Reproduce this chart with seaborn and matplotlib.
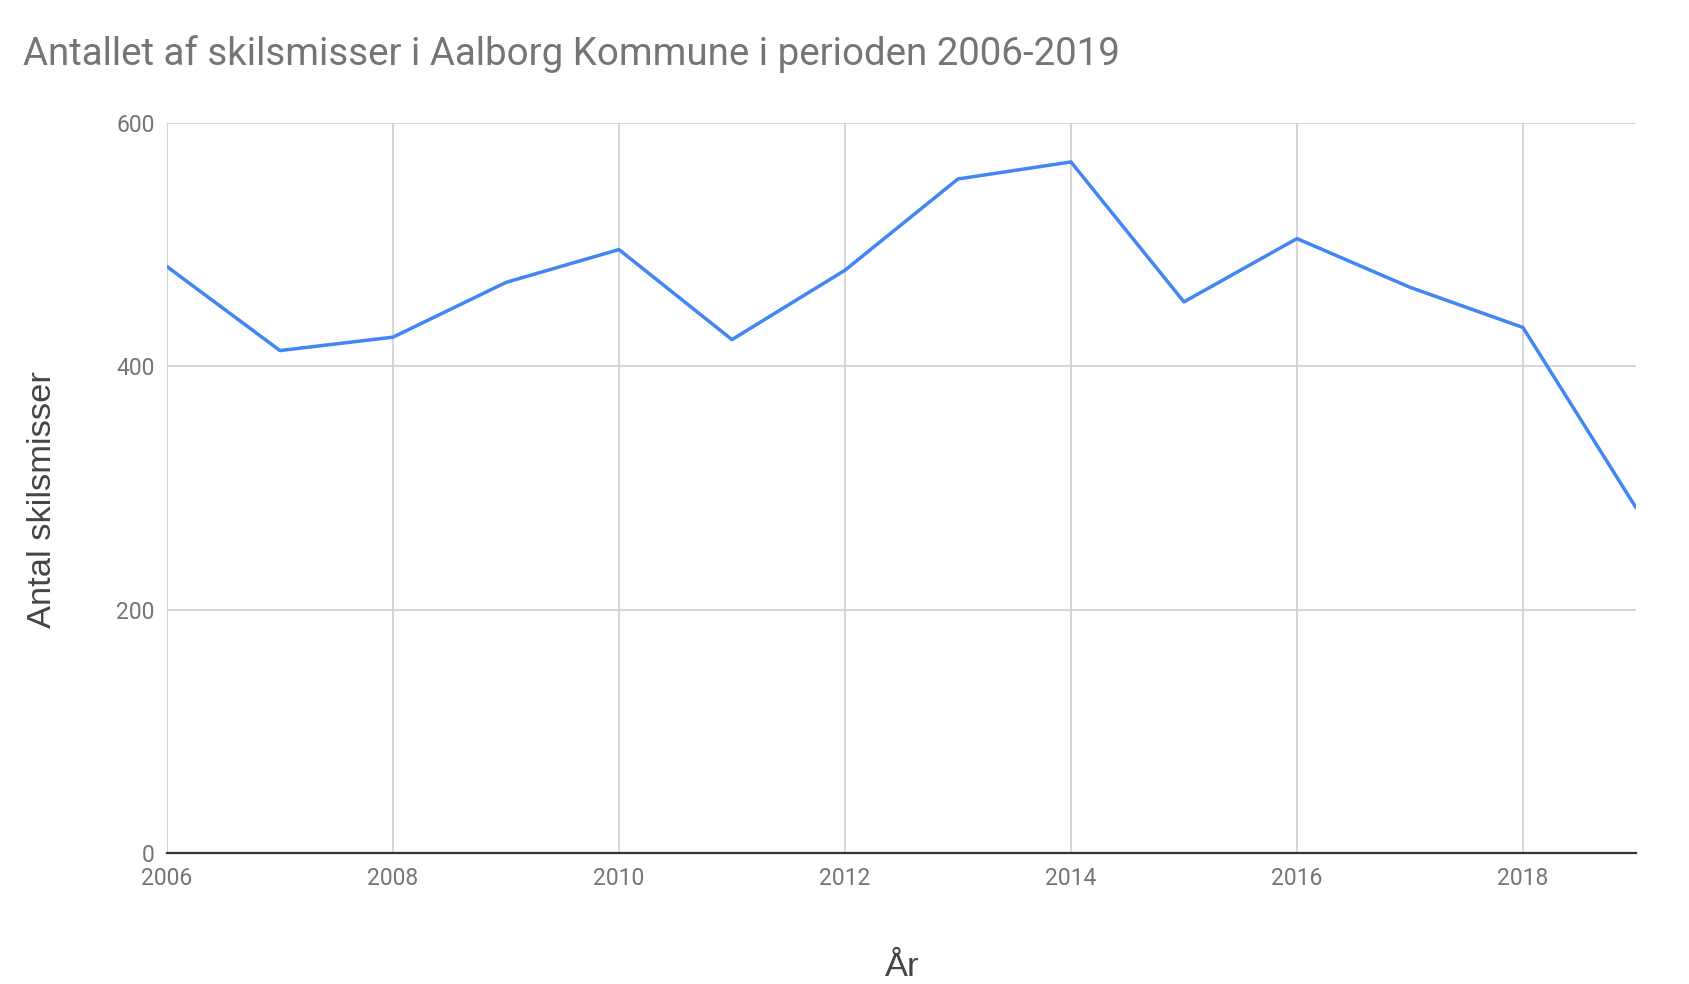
import pandas as pd
from matplotlib import pyplot as plt
import seaborn as sns

# data
years = [2006, 2007, 2008, 2009, 2010, 2011, 2012, 2013, 2014, 2015, 2016, 2017, 2018, 2019]
divorces = [482, 413, 424, 469, 496, 422, 479, 554, 568, 453, 505, 465, 432, 284]
x_ticks = [2006, 2008, 2010, 2012, 2014, 2016, 2018]
y_ticks = [0, 200, 400, 600]

title = "Antallet af skilsmisser i Aalborg Kommune i perioden 2006-2019"
x_label = "År"
y_label = "Antal skilsmisser"

df = pd.DataFrame({'year': years, 'divorces': divorces})

sns.set_style('white')
plt.rcParams['font.family'] = ['Roboto', 'DejaVu Sans']

fig = plt.figure(figsize=(16.9, 9.84), dpi=100)
ax = fig.add_axes([0.0988, 0.133, 0.968 - 0.0988, 0.875 - 0.133])

sns.lineplot(data=df, x='year', y='divorces', ax=ax, color='#4285F4', linewidth=2.5, zorder=3)

ax.set_xlim(2006, 2019)
ax.set_ylim(0, 600)
ax.set_xticks(x_ticks)
ax.set_yticks(y_ticks)
ax.grid(True, color='#cccccc', linewidth=1.1)
ax.set_axisbelow(True)
for s in ['top', 'right', 'left']:
    ax.spines[s].set_visible(False)
ax.spines['bottom'].set_color('#333333')
ax.spines['bottom'].set_linewidth(1.6)
ax.spines['bottom'].set_zorder(4)
ax.tick_params(axis='both', length=0, labelsize=16.5, labelcolor='#757575')
ax.tick_params(axis='x', pad=10)
ax.tick_params(axis='y', pad=9)
ax.set_xlabel('')
ax.set_ylabel('')

fig.text(0.0136, 0.934, title, fontsize=27.7, color='#757575', va='baseline', ha='left')
fig.text(0.0254, 0.492, y_label, fontsize=24.8, color='#444444', rotation=90,
         va='center', ha='center', family=['Liberation Sans', 'DejaVu Sans'])
fig.text(0.534, 0.008, x_label, fontsize=24.8, color='#444444', va='baseline', ha='center',
         family=['Liberation Sans', 'DejaVu Sans'])

fig.savefig('out.png', dpi=100, facecolor='white')
